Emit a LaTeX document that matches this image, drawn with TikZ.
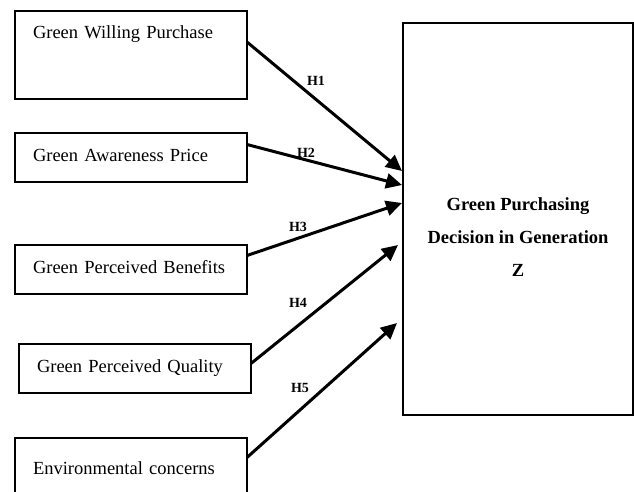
\documentclass[tikz,border=0pt]{standalone}
\usepackage{fontspec}
\setmainfont{Liberation Serif}
\usepackage{tikz}
\usetikzlibrary{arrows.meta}
\tikzset{
  VarBox/.style={draw, line width=1.2pt, anchor=north west, outer sep=0pt,
    minimum height=49pt, text width=196pt, inner xsep=18pt, inner ysep=14pt,
    align=left, text height=13pt, text depth=6pt,
    font=\fontsize{18.5}{22}\selectfont}, % linke Kaesten
  DecBox/.style={draw, line width=2pt, anchor=north west, outer sep=0pt,
    inner sep=0pt, minimum width=230pt, align=center,
    font=\fontsize{18.5}{33}\selectfont\bfseries}, % rechter Kasten
  HArrow/.style={line width=3pt, ->}, % Hypothesenpfeile
  HLabel/.style={font=\fontsize{14}{16}\selectfont\bfseries}
}
\begin{document}
\begin{tikzpicture}[x=1pt, y=-1pt,
>={Triangle[length=16pt,width=15pt]} % Pfeilspitzen
]
\useasboundingbox (0,0) rectangle (634,491);

%Kaesten
\node[VarBox, text depth=47pt] (gwp) at (15,11) {Green Willing Purchase};
\node[VarBox] (gap) at (15,133) {Green Awareness Price};
\node[VarBox] (gpb) at (15,245) {Green Perceived Benefits};
\node[VarBox] (gpq) at (19,344) {Green Perceived Quality};
\node[VarBox, minimum height=65pt] (env) at (15,438) {Environmental concerns};

\node[DecBox, text height=253pt, text depth=139pt] (gpd) at (403,23)
  {Green Purchasing\\Decision in Generation\\Z};

%Pfeile
\draw[HArrow] ([yshift=13pt]gwp.east) -- ([xshift=-1pt,yshift=48pt]gpd.west);
\draw[HArrow] ([yshift=13pt]gap.east) -- ([xshift=-1pt,yshift=34pt]gpd.west);
\draw[HArrow] ([yshift=14pt]gpb.east) -- ([xshift=-1pt,yshift=16pt]gpd.west);
\draw[HArrow] ([yshift=5pt]gpq.east) -- ([xshift=-5pt,yshift=-26pt]gpd.west);
\draw[HArrow] ([yshift=13pt]env.east) -- ([xshift=-6pt,yshift=-104pt]gpd.west);

%Beschriftung
\node[HLabel] (h1) at (316,81) {H1};
\node[HLabel] (h2) at (306,153) {H2};
\node[HLabel] (h3) at (298,227) {H3};
\node[HLabel] (h4) at (298,303) {H4};
\node[HLabel] (h5) at (300,388) {H5};

\end{tikzpicture}
\end{document}
